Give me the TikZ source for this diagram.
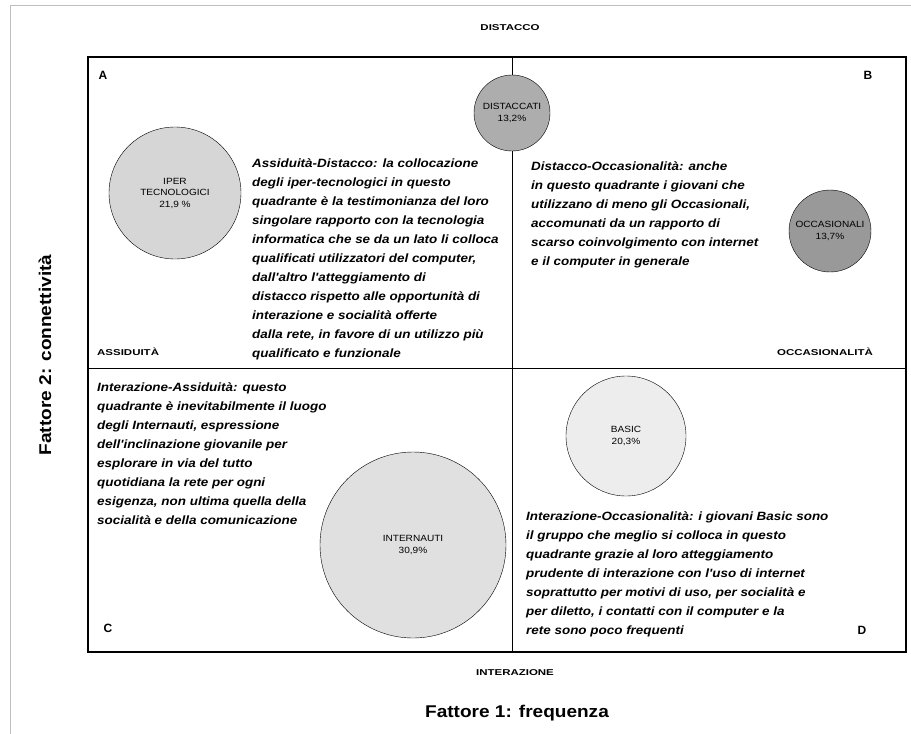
\documentclass[tikz,border=0pt]{standalone}
\usepackage{fontspec}
\setmainfont{Liberation Sans}
\newfontfamily\largo[FakeStretch=1.12]{Liberation Sans}
\newfontfamily\largopolo[FakeStretch=1.35]{Liberation Sans}
\begin{document}
\begin{tikzpicture}[x=1pt, y=-1pt,
    bolla/.style={circle, draw, thin, inner sep=0pt, align=center, font=\largo\fontsize{9}{11.5}\selectfont},
    testo/.style={anchor=north west, align=left, inner sep=0pt, font=\largo\fontsize{12}{19}\selectfont\bfseries\itshape},
    polo/.style={inner sep=1pt, font=\largopolo\fontsize{8.5}{9}\selectfont\bfseries},
    lettera/.style={inner sep=1pt, font=\fontsize{12}{13}\selectfont\bfseries},
    fattore/.style={inner sep=1pt, font=\largo\fontsize{17}{18}\selectfont\bfseries}]
  \useasboundingbox (0,0) rectangle (911,734);
  \draw[black!25] (911,5) -- (10,5) -- (10,734);

  % riquadro e assi
  \coordinate (alto) at (512,57);
  \coordinate (basso) at (512,652);
  \coordinate (sx) at (88,368);
  \coordinate (dx) at (906,368);
  \draw[line width=1.4pt] (88,57) rectangle (906,652);
  \draw[line width=1pt] (alto) -- (basso);
  \draw[line width=1pt] (sx) -- (dx);

  % poli
  \node[polo] (distacco) at (510,28) {DISTACCO};
  \node[polo] (interazione) at (515,673) {INTERAZIONE};
  \node[polo, anchor=west] (assiduita) at (96,352) {ASSIDUITÀ};
  \node[polo, anchor=east] (occasionalita) at (874,352) {OCCASIONALITÀ};
  \node[fattore, rotate=90] (fattore2) at (45,355) {Fattore 2: connettività};
  \node[fattore] (fattore1) at (517,713) {Fattore 1: frequenza};

  % quadranti
  \node[lettera] (qA) at (103,75) {A};
  \node[lettera] (qB) at (868,75) {B};
  \node[lettera] (qC) at (108,628) {C};
  \node[lettera] (qD) at (862,630) {D};

  % gruppi
  \node[bolla, fill=black!16, minimum size=132pt] (ipertec) at (175,193) {IPER\\TECNOLOGICI\\21,9 \%};
  \node[bolla, fill=black!32, minimum size=76pt] (distaccati) at (512,113) {DISTACCATI\\13,2\%};
  \node[bolla, fill=black!40, minimum size=82pt] (occasionali) at (830,231) {OCCASIONALI\\13,7\%};
  \node[bolla, fill=black!7, minimum size=120pt] (basic) at (626,436) {BASIC\\20,3\%};
  \node[bolla, fill=black!12, minimum size=186pt] (internauti) at (413,545) {INTERNAUTI\\30,9\%};

  % commenti
  \node[testo] (testoA) at (252,158) {Assiduità-Distacco: la collocazione\\
    degli iper-tecnologici in questo\\
    quadrante è la testimonianza del loro\\
    singolare rapporto con la tecnologia\\
    informatica che se da un lato li colloca\\
    qualificati utilizzatori del computer,\\
    dall'altro l'atteggiamento di\\
    distacco rispetto alle opportunità di\\
    interazione e socialità offerte\\
    dalla rete, in favore di un utilizzo più\\
    qualificato e funzionale};
  \node[testo] (testoB) at (531,161) {Distacco-Occasionalità: anche\\
    in questo quadrante i giovani che\\
    utilizzano di meno gli Occasionali,\\
    accomunati da un rapporto di\\
    scarso coinvolgimento con internet\\
    e il computer in generale};
  \node[testo] (testoC) at (97,382) {Interazione-Assiduità: questo\\
    quadrante è inevitabilmente il luogo\\
    degli Internauti, espressione\\
    dell'inclinazione giovanile per\\
    esplorare in via del tutto\\
    quotidiana la rete per ogni\\
    esigenza, non ultima quella della\\
    socialità e della comunicazione};
  \node[testo] (testoD) at (526,511) {Interazione-Occasionalità: i giovani Basic sono\\
    il gruppo che meglio si colloca in questo\\
    quadrante grazie al loro atteggiamento\\
    prudente di interazione con l'uso di internet\\
    soprattutto per motivi di uso, per socialità e\\
    per diletto, i contatti con il computer e la\\
    rete sono poco frequenti};
\end{tikzpicture}
\end{document}
